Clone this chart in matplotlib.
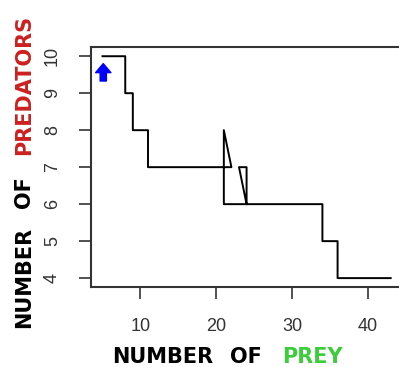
import matplotlib
matplotlib.use("Agg")
import matplotlib.pyplot as plt

# path of the simulation (prey, predators)
prey = [5, 8, 8, 9, 9, 11, 11, 22, 21, 21, 24, 23, 24, 24, 34, 34, 36, 36, 43]
predators = [10, 10, 9, 9, 8, 8, 7, 7, 8, 6, 6, 7, 7, 6, 6, 5, 5, 4, 4]

start_prey = 5.1
start_pred = 9.33

x_ticks = [10, 20, 30, 40]
y_ticks = [4, 5, 6, 7, 8, 9, 10]

plt.rcParams['font.family'] = ['Liberation Sans', 'DejaVu Sans']

W, H = 399, 367
fig = plt.figure(figsize=(W / 100, H / 100), dpi=100)
ax = fig.add_axes([0.228, 0.218, 0.78, 0.653])

ax.plot(prey, predators, color='black', lw=1.4)

# start marker
ax.annotate('', xy=(start_prey, 9.8), xytext=(start_prey, start_pred),
            arrowprops=dict(arrowstyle='simple,head_length=0.65,head_width=1.1,tail_width=0.45',
                            color='blue', mutation_scale=10, shrinkA=0, shrinkB=0))

ax.set_xlim(3.48, 44.52)
ax.set_ylim(3.76, 10.24)
ax.set_xticks(x_ticks)
ax.set_yticks(y_ticks)
ax.tick_params(axis='both', length=8.5, width=1.2, color='#333333', labelsize=13,
               labelcolor='#333333')
ax.tick_params(axis='x', pad=14)
ax.tick_params(axis='y', pad=13)
for lab in ax.get_yticklabels():
    lab.set_rotation(90)
    lab.set_va('center')
for s in ax.spines.values():
    s.set_linewidth(1.5)
    s.set_color('#333333')

# axis titles, word by word (mixed colours)
lab_kw = dict(fontsize=15, fontweight='bold', family='DejaVu Sans')
red = '#cc2020'
green = '#3ccc3c'

for txt, col, px in [('NUMBER', 'black', 112), ('OF', 'black', 230), ('PREY', green, 282)]:
    fig.text(px / W, 4 / H, txt, color=col, ha='left', va='baseline', **lab_kw)

for txt, col, py in [('NUMBER', 'black', 328), ('OF', 'black', 208), ('PREDATORS', red, 155)]:
    fig.text(30 / W, (H - py) / H, txt, color=col, rotation=90, ha='left', va='baseline',
             rotation_mode='anchor', **lab_kw)

fig.savefig('out.png', dpi=100)
